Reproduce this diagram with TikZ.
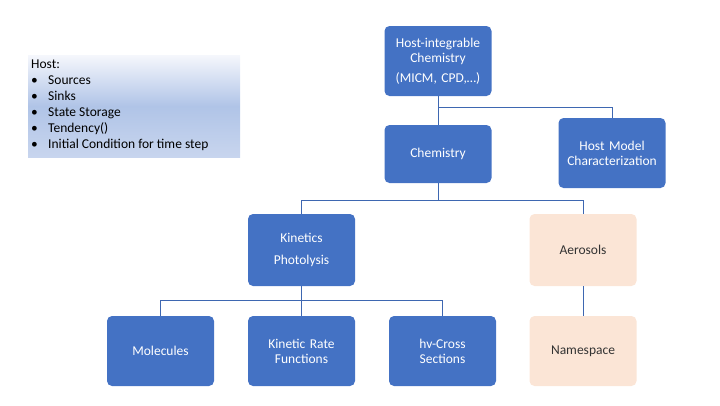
\documentclass[tikz,border=0pt]{standalone}
\usepackage{fontspec}
\setmainfont{Carlito}
\usepackage{xcolor}
\usetikzlibrary{positioning}
\definecolor{BoxBlue}{HTML}{4472C4}
\definecolor{LineBlue}{HTML}{3E67B1}
\definecolor{Peach}{HTML}{FBE5D6}
\definecolor{HostTop}{HTML}{F5F7FC}
\definecolor{HostMid}{HTML}{B0C4E7}
\definecolor{HostBot}{HTML}{C8D5EE}
\newcommand{\hostitem}[1]{\makebox[17pt][l]{\textbullet}#1}
\tikzset{
    bluebox/.style={rectangle, rounded corners=5pt, fill=BoxBlue, text=white,
                    minimum width=107pt, minimum height=70pt, font=\fontsize{13.5}{15}\selectfont,
                    align=center, text width=106pt, inner sep=0.5pt},
    peachbox/.style={bluebox, fill=Peach, text=black!80},
    link/.style={draw=LineBlue, line width=0.9pt}
}

\begin{document}
\begin{tikzpicture}[x=1pt, y=-1pt]
    \useasboundingbox (0,0) rectangle (720,405);

    % Host notes
    \node[rectangle, top color=HostTop, bottom color=HostBot, middle color=HostMid,
          minimum width=212pt, minimum height=102pt, anchor=north west, inner sep=0pt] (host) at (28,55) {};
    \node[anchor=north west, align=left, font=\fontsize{13.5}{16}\selectfont, inner sep=0pt,
          text=black] (hosttext) at (31,60) {Host:\\
        \hostitem{Sources}\\
        \hostitem{Sinks}\\
        \hostitem{State Storage}\\
        \hostitem{Tendency()}\\
        \hostitem{Initial Condition for time step}};

    % Tree of boxes
    \node[bluebox] (hic) at (438,61) {Host-integrable\\Chemistry\\[5pt](MICM, CPD,\ldots)};
    \node[bluebox, minimum height=58pt] (chem) at (438,154) {Chemistry};
    \node[bluebox] (hmc) at (612,153) {Host Model\\Characterization};
    \node[bluebox, minimum height=72pt] (kin) at (301.5,250) {Kinetics\\[7pt]Photolysis};
    \node[peachbox, minimum height=72pt] (aer) at (583,250) {Aerosols};
    \node[bluebox] (mol) at (160.5,351) {Molecules};
    \node[bluebox] (krf) at (301.5,351) {Kinetic Rate\\Functions};
    \node[bluebox] (hv) at (442.5,351) {hv-Cross\\Sections};
    \node[peachbox] (ns) at (583,351) {Namespace};

    % Connectors
    \draw[link] (hic.south) -- (chem.north);
    \draw[link] (hic.south) -- ++(0,11) -| (hmc.north);
    \draw[link] (chem.south) -- ++(0,17) -| (kin.north);
    \draw[link] (chem.south) -- ++(0,17) -| (aer.north);
    \draw[link] (kin.south) -- (krf.north);
    \draw[link] (kin.south) -- ++(0,14) -| (mol.north);
    \draw[link] (kin.south) -- ++(0,14) -| (hv.north);
    \draw[link] (aer.south) -- (ns.north);
\end{tikzpicture}
\end{document}
